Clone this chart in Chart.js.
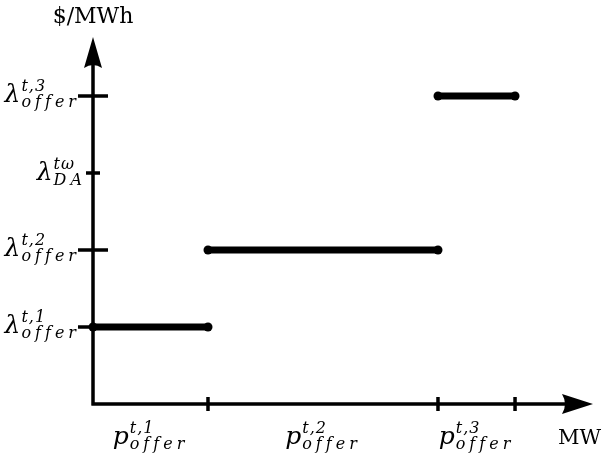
<!DOCTYPE html>
<html>
<head>
<meta charset="utf-8">
<script src="https://cdn.jsdelivr.net/npm/chart.js@4"></script>
<style>
  html, body { margin: 0; padding: 0; background: #fff; }
  #wrap { width: 608px; height: 462px; }
</style>
</head>
<body>
<div id="wrap"><canvas id="offerChart" width="608" height="462"></canvas></div>
<script>
// step offer curve: quantity breakpoints and offer price per block
const qtyBreaks = [0, 1, 3, 3.67];
const offerPrices = [1, 2, 4];
const daPrice = 3;
const qtyLabels = [['t,1', 'offer'], ['t,2', 'offer'], ['t,3', 'offer']];
const priceLabels = [['t,1', 'offer'], ['t,2', 'offer'], ['t,3', 'offer']];
const daLabel = ['tω', 'DA'];
const xTitle = 'MW';
const yTitle = '$/MWh';

const X_MAX = 4.348;
const Y_MAX = 4.766;
const INK = '#000';
const SERIF = "'DejaVu Serif', serif";

function drawSpaced(ctx, txt, x, y, sp) {
  for (const ch of txt) {
    ctx.fillText(ch, x, y);
    x += ctx.measureText(ch).width + sp;
  }
  return x;
}
function spacedWidth(ctx, txt, sp) {
  let w = 0;
  for (const ch of txt) w += ctx.measureText(ch).width + sp;
  return w - sp;
}

// base letter with superscript and subscript, like TeX
function drawMath(ctx, base, sup, sub, x, y, align) {
  ctx.font = 'italic 25px ' + SERIF;
  const bw = ctx.measureText(base).width;
  ctx.font = 'italic 16px ' + SERIF;
  const supW = spacedWidth(ctx, sup, 1);
  const subW = spacedWidth(ctx, sub, 4);
  const w = bw + 1 + Math.max(supW, subW);
  let x0 = align === 'right' ? x - w : x - w / 2;
  ctx.textAlign = 'left';
  ctx.textBaseline = 'alphabetic';
  ctx.fillStyle = INK;
  ctx.font = 'italic 25px ' + SERIF;
  ctx.fillText(base, x0, y);
  ctx.font = 'italic 16px ' + SERIF;
  drawSpaced(ctx, sup, x0 + bw + 1, y - 11, 1);
  drawSpaced(ctx, sub, x0 + bw + 1, y + 5, 4);
}

function arrowHead(ctx, tx, ty, dir) {
  ctx.beginPath();
  if (dir === 'up') {
    ctx.moveTo(tx, ty);
    ctx.lineTo(tx + 9, ty + 31);
    ctx.quadraticCurveTo(tx, ty + 25, tx - 9, ty + 31);
  } else {
    ctx.moveTo(tx, ty);
    ctx.lineTo(tx - 31, ty - 10);
    ctx.quadraticCurveTo(tx - 25, ty, tx - 31, ty + 10);
  }
  ctx.closePath();
  ctx.fill();
}

const axesPlugin = {
  id: 'axesPlugin',
  beforeDatasetsDraw(chart) {
    const { ctx, scales: { x, y } } = chart;
    const x0 = x.getPixelForValue(0), y0 = y.getPixelForValue(0);
    const xEnd = x.getPixelForValue(X_MAX), yEnd = y.getPixelForValue(Y_MAX);
    ctx.save();
    ctx.strokeStyle = INK;
    ctx.fillStyle = INK;
    ctx.lineWidth = 3.5;
    ctx.lineCap = 'butt';
    ctx.beginPath();
    ctx.moveTo(x0, y0 + 1.5);
    ctx.lineTo(x0, yEnd + 20);
    ctx.moveTo(x0 - 1.5, y0);
    ctx.lineTo(xEnd - 20, y0);
    ctx.stroke();
    arrowHead(ctx, x0, yEnd, 'up');
    arrowHead(ctx, xEnd, y0, 'right');

    // price ticks
    ctx.beginPath();
    offerPrices.forEach(v => {
      const py = y.getPixelForValue(v);
      ctx.moveTo(x0 - 15, py); ctx.lineTo(x0 + 15, py);
    });
    const pda = y.getPixelForValue(daPrice);
    ctx.moveTo(x0 - 7, pda); ctx.lineTo(x0 + 7, pda);
    // quantity ticks
    qtyBreaks.slice(1).forEach(v => {
      const px = x.getPixelForValue(v);
      ctx.moveTo(px, y0 - 7); ctx.lineTo(px, y0 + 7);
    });
    ctx.stroke();

    // labels
    offerPrices.forEach((v, i) => {
      const py = y.getPixelForValue(v);
      drawMath(ctx, 'λ', priceLabels[i][0], priceLabels[i][1], x0 - 17, py + 6, 'right');
    });
    drawMath(ctx, 'λ', daLabel[0], daLabel[1], x0 - 11, pda + 7, 'right');
    for (let i = 0; i < qtyBreaks.length - 1; i++) {
      const mid = (x.getPixelForValue(qtyBreaks[i]) + x.getPixelForValue(qtyBreaks[i + 1])) / 2;
      drawMath(ctx, 'p', qtyLabels[i][0], qtyLabels[i][1], mid - 2, y0 + 40, 'center');
    }
    ctx.textBaseline = 'alphabetic';
    ctx.textAlign = 'left';
    ctx.font = '21px ' + SERIF;
    ctx.fillText(xTitle, 558, 444);
    ctx.font = '22px ' + SERIF;
    const tw = ctx.measureText(yTitle).width;
    ctx.fillText(yTitle, x0 - tw / 2, 23);
    ctx.restore();
  }
};

const segments = offerPrices.map((p, i) => ({
  data: [{ x: qtyBreaks[i], y: p }, { x: qtyBreaks[i + 1], y: p }],
  borderColor: INK,
  backgroundColor: INK,
  borderWidth: 7,
  pointRadius: 4.5,
  pointHoverRadius: 4.5,
  pointBorderWidth: 0,
  clip: false,
}));

new Chart(document.getElementById('offerChart'), {
  type: 'line',
  data: { datasets: segments },
  plugins: [axesPlugin],
  options: {
    responsive: false,
    animation: false,
    events: [],
    layout: { padding: { left: 93, top: 37, right: 15, bottom: 58 } },
    plugins: { legend: { display: false }, tooltip: { enabled: false } },
    scales: {
      x: { type: 'linear', min: 0, max: X_MAX, display: false },
      y: { type: 'linear', min: 0, max: Y_MAX, display: false },
    },
  },
});
</script>
</body>
</html>
